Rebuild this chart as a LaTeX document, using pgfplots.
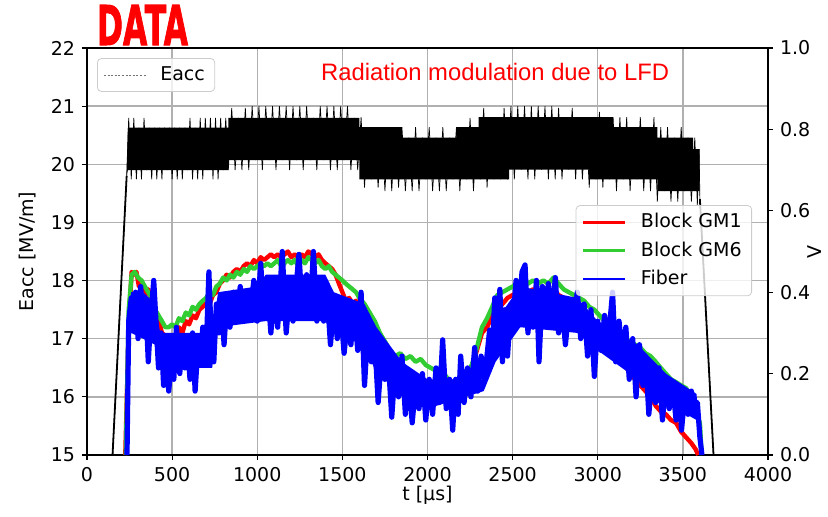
\documentclass[border=0pt]{standalone}
\usepackage{fontspec}
\setmainfont{DejaVu Sans}
\newfontfamily\arialfont{Liberation Sans}
\newfontfamily\datafont{DejaVu Sans Bold}[FakeBold=2]
\usepackage{pgfplots}
\pgfplotsset{compat=1.18}
\definecolor{mplgreen}{RGB}{50,205,50}
\definecolor{gridgray}{RGB}{176,176,176}
\definecolor{legframe}{RGB}{204,204,204}
\pgfplotsset{
  common/.style={
    scale only axis, width=340.5pt, height=203.5pt,
    at={(0,0)}, anchor=south west,
    xmin=0, xmax=4000,
    tick align=outside, major tick length=2.5pt,
    tick style={black, line width=0.6pt},
    axis line style={line width=0.7pt},
    /pgf/number format/assume math mode=true,
    /pgf/number format/1000 sep={},
    scaled ticks=false,
    tick label style={font=\fontsize{9.5}{11}\selectfont},
    label style={font=\fontsize{9.5}{11}\selectfont},
  }
}
\begin{document}
\begin{tikzpicture}
\begin{axis}[common, name=ax,
  ymin=15, ymax=22, ytick={15,16,17,18,19,20,21,22},
  xtick={0,500,1000,1500,2000,2500,3000,3500,4000},
  tick pos=left,
  grid=major, grid style={gridgray, line width=0.7pt},
  xlabel={t [µs]}, ylabel={Eacc [MV/m]},
  xlabel style={at={(axis description cs:0.5,-0.0983)}, anchor=center},
  ylabel style={at={(axis description cs:-0.0866,0.5)}, anchor=center},
  legend style={at={(axis description cs:0.0147,0.975)}, anchor=north west,
    draw=legframe, rounded corners=2pt, fill=white, fill opacity=0.8, text opacity=1,
    font=\fontsize{9.5}{11}\selectfont, inner xsep=3pt, inner ysep=2pt},
  legend cell align=left,
]
\addplot[fill=black, draw=none, forget plot] coordinates {
(233,19.8) (240,20.63) (830,20.63) (830,20.8) (1600,20.8) (1600,20.64) (1850,20.64) (1850,20.46)
(2170,20.46) (2170,20.64) (2300,20.64) (2300,20.81) (3090,20.81) (3090,20.64) (3350,20.64)
(3350,20.46) (3560,20.46) (3560,20.26) (3598,20.26)
(3598,19.54) (3350,19.54) (3350,19.74) (2950,19.74) (2950,19.91) (2480,19.91) (2480,19.74)
(1600,19.74) (1600,20.07) (830,20.07) (830,19.9) (240,19.9)
};
\addplot[black, line width=0.9pt, forget plot] coordinates {(150,15) (233,19.8)};
\addplot[black, line width=0.9pt, forget plot] coordinates {(3600,19.4) (3680,15)};
\addplot[black, line width=0.35pt, legend image code/.code={\draw[black!55, line width=0.5pt, dash pattern=on 1pt off 0.8pt] (0pt,0pt) -- (21pt,0pt); \path (26pt,0pt);}] coordinates {
(150,15) (233,19.8)
(245,20.8) (260,19.74) (275,20.8) (290,19.74) (305,20.63) (320,19.74) (335,20.8) (350,19.9) (365,20.63) (380,19.74)
(395,20.63) (410,19.74) (425,20.63) (440,19.74) (455,20.63) (470,19.9) (485,20.63) (500,19.74) (515,20.63) (530,19.74)
(545,20.63) (560,19.74) (575,20.63) (590,19.9) (605,20.8) (620,19.74) (635,20.63) (650,19.74) (665,20.8) (680,19.74)
(695,20.8) (710,19.9) (725,20.8) (740,19.74) (755,20.8) (770,19.74) (785,20.8) (800,19.9) (815,20.8)
(830,19.9) (850,20.97) (870,19.9) (890,20.8) (910,19.9) (930,20.97) (950,19.9) (970,21.0) (990,20.07) (1010,21.0)
(1030,19.9) (1050,21.0) (1070,20.07) (1090,21.0) (1110,19.9) (1130,21.0) (1150,20.07) (1170,21.0) (1190,19.9) (1210,21.0)
(1230,20.07) (1250,21.0) (1270,19.9) (1290,21.0) (1310,20.07) (1330,20.8) (1350,19.9) (1370,21.0) (1390,20.07) (1410,21.0)
(1430,19.9) (1450,21.0) (1470,19.9) (1490,21.0) (1510,20.07) (1530,21.0) (1550,19.9) (1570,20.8) (1590,19.9)
(1610,20.81) (1630,19.6) (1650,20.64) (1670,19.74) (1690,20.64) (1710,19.6) (1730,20.64) (1750,19.54)
(1770,20.64) (1790,19.54) (1810,20.64) (1830,19.6) (1850,20.64) (1870,19.54) (1890,20.46) (1910,19.54) (1930,20.64) (1950,19.54)
(1970,20.46) (1990,19.74) (2010,20.64) (2030,19.54) (2050,20.46) (2070,19.54) (2090,20.64) (2110,19.54) (2130,20.46) (2150,19.74)
(2170,20.64) (2190,19.54) (2210,20.64) (2230,19.74) (2250,20.8) (2270,19.54) (2290,20.64)
(2310,19.74) (2330,20.97) (2350,19.6) (2370,20.81) (2390,19.74) (2410,20.81) (2430,19.74) (2450,20.97) (2470,19.74)
(2490,21.0) (2510,19.74) (2530,21.0) (2550,19.91) (2570,21.0) (2590,19.74) (2610,21.0) (2630,19.74) (2650,21.0) (2670,19.91)
(2690,21.0) (2710,19.74) (2730,21.0) (2750,19.74) (2770,20.97) (2790,19.74) (2810,20.81) (2830,19.91) (2850,20.97) (2870,19.74)
(2890,20.81) (2910,19.74) (2930,20.81) (2950,19.6) (2970,20.81) (2990,19.74) (3010,20.9) (3030,19.6) (3050,20.81) (3070,19.74)
(3090,20.81) (3110,19.54) (3130,20.81) (3150,19.74) (3170,20.81) (3190,19.54) (3210,20.64) (3230,19.74) (3250,20.81) (3270,19.54)
(3290,20.64) (3310,19.54) (3330,20.81) (3350,19.36) (3370,20.64) (3390,19.54) (3410,20.64) (3430,19.36) (3450,20.46) (3470,19.36)
(3490,20.64) (3510,19.54) (3530,20.46) (3550,19.36) (3570,20.46) (3585,19.3) (3595,20.26) (3600,19.4) (3680,15)
};
\addlegendentry{Eacc}
\node[text=red, font=\arialfont\fontsize{11.9}{13}\selectfont] at (axis cs:2397,21.587) {Radiation modulation due to LFD};
\end{axis}
\begin{axis}[common,
  axis y line*=right, axis x line=none,
  ymin=0, ymax=1, ytick={0,0.2,0.4,0.6,0.8,1.0},
  yticklabel style={/pgf/number format/.cd, fixed, fixed zerofill, precision=1},
  ylabel={V},
  ylabel style={at={(axis description cs:1.069,0.5)}, anchor=center},
  legend style={at={(axis description cs:0.9765,0.614)}, anchor=north east,
    draw=legframe, rounded corners=2pt, fill=white, fill opacity=0.8, text opacity=1,
    font=\fontsize{9.5}{11}\selectfont, inner xsep=3pt, inner ysep=2pt, row sep=1.5pt},
  legend cell align=left,
  legend image code/.code={\draw[#1, line width=1.3pt] (0pt,0pt) -- (21pt,0pt); \path (25.5pt,0pt);},
]
\addplot[red, line width=2.2pt, line join=round] coordinates {
(225,0) (245,0.314) (262,0.45) (275,0.443) (290,0.45) (305,0.414) (320,0.429) (340,0.393) (360,0.407) (380,0.371)
(400,0.357) (420,0.336) (440,0.3) (460,0.293) (480,0.286) (500,0.293) (520,0.286) (540,0.314) (560,0.3) (580,0.329)
(600,0.321) (620,0.343) (640,0.336) (660,0.357) (680,0.364) (700,0.379) (720,0.371) (740,0.393) (760,0.4) (780,0.421)
(800,0.429) (820,0.443) (840,0.436) (860,0.45) (880,0.457) (900,0.45) (920,0.464) (940,0.471) (960,0.464) (980,0.479)
(1000,0.471) (1020,0.486) (1040,0.479) (1060,0.486) (1080,0.493) (1100,0.486) (1120,0.493) (1140,0.486) (1160,0.493) (1180,0.5)
(1200,0.486) (1220,0.493) (1240,0.486) (1260,0.493) (1280,0.486) (1300,0.5) (1320,0.493) (1340,0.486) (1360,0.493) (1380,0.479)
(1400,0.471) (1420,0.464) (1440,0.457) (1460,0.443) (1480,0.421) (1500,0.4) (1520,0.379) (1540,0.386) (1560,0.371) (1580,0.379)
(1600,0.364) (1630,0.35) (1660,0.336) (1690,0.314) (1720,0.293) (1750,0.271) (1780,0.25) (1810,0.236) (1840,0.214) (1870,0.2)
(1900,0.186) (1930,0.179) (1960,0.164) (1990,0.157) (2020,0.15) (2050,0.157) (2080,0.143) (2110,0.15) (2140,0.136) (2170,0.143)
(2200,0.157) (2230,0.179) (2260,0.214) (2290,0.257) (2320,0.3) (2350,0.314) (2380,0.343) (2410,0.357) (2440,0.371) (2470,0.386)
(2500,0.393) (2530,0.4) (2560,0.407) (2590,0.4) (2620,0.407) (2650,0.4) (2680,0.407) (2710,0.4) (2740,0.407) (2770,0.393)
(2800,0.386) (2830,0.379) (2860,0.371) (2890,0.364) (2920,0.35) (2950,0.336) (2980,0.321) (3010,0.3) (3040,0.286) (3070,0.271)
(3100,0.25) (3130,0.236) (3160,0.221) (3190,0.2) (3220,0.186) (3250,0.171) (3280,0.157) (3310,0.143) (3340,0.121) (3370,0.107)
(3400,0.1) (3430,0.086) (3460,0.079) (3490,0.057) (3520,0.043) (3550,0.029) (3575,0.014) (3590,0)
};
\addlegendentry{Block GM1}
\addplot[mplgreen, line width=2.2pt, line join=round] coordinates {
(228,0) (245,0.357) (262,0.443) (280,0.45) (300,0.436) (320,0.429) (340,0.414) (360,0.4) (380,0.386) (400,0.357)
(420,0.343) (440,0.329) (460,0.314) (480,0.314) (500,0.321) (520,0.314) (540,0.336) (560,0.329) (580,0.35) (600,0.343)
(620,0.364) (640,0.357) (660,0.371) (680,0.379) (700,0.386) (720,0.4) (740,0.393) (760,0.414) (780,0.421) (800,0.436)
(820,0.429) (840,0.443) (860,0.436) (880,0.45) (900,0.443) (920,0.457) (940,0.45) (960,0.464) (980,0.457) (1000,0.464)
(1020,0.471) (1040,0.464) (1060,0.471) (1080,0.464) (1100,0.471) (1120,0.479) (1140,0.464) (1160,0.471) (1180,0.479) (1200,0.471)
(1220,0.479) (1240,0.464) (1260,0.479) (1280,0.471) (1300,0.486) (1320,0.479) (1340,0.471) (1360,0.479) (1380,0.464) (1400,0.457)
(1420,0.464) (1440,0.45) (1460,0.443) (1480,0.436) (1500,0.429) (1520,0.421) (1540,0.414) (1560,0.407) (1580,0.4) (1600,0.386)
(1630,0.371) (1660,0.35) (1690,0.329) (1720,0.3) (1750,0.279) (1780,0.257) (1810,0.243) (1840,0.25) (1870,0.236) (1900,0.243)
(1930,0.229) (1960,0.236) (1990,0.221) (2020,0.214) (2050,0.207) (2080,0.2) (2110,0.193) (2140,0.171) (2170,0.179) (2200,0.186)
(2230,0.2) (2260,0.221) (2290,0.264) (2320,0.314) (2350,0.336) (2380,0.364) (2410,0.393) (2440,0.4) (2470,0.407) (2500,0.414)
(2530,0.421) (2560,0.436) (2590,0.421) (2620,0.429) (2650,0.421) (2680,0.429) (2710,0.421) (2740,0.436) (2770,0.421) (2800,0.407)
(2830,0.4) (2860,0.393) (2890,0.386) (2920,0.379) (2950,0.364) (2980,0.357) (3010,0.343) (3040,0.329) (3070,0.321) (3100,0.307)
(3130,0.293) (3160,0.286) (3190,0.279) (3220,0.271) (3250,0.264) (3280,0.25) (3310,0.243) (3340,0.229) (3370,0.214) (3400,0.2)
(3430,0.186) (3460,0.179) (3490,0.171) (3520,0.164) (3550,0.136) (3580,0.1) (3600,0.079) (3610,0)
};
\addlegendentry{Block GM6}
\addplot[fill=blue, draw=none, forget plot] coordinates {
(240,0.357) (260,0.4) (330,0.4) (400,0.371) (430,0.3) (735,0.3) (770,0.4) (1000,0.414) (1050,0.443) (1400,0.443)
(1450,0.4) (1630,0.371) (1700,0.314) (1850,0.229) (2000,0.186) (2330,0.186) (2400,0.329) (2545,0.414) (2880,0.386)
(3000,0.329) (3235,0.271) (3400,0.2) (3580,0.15) (3605,0.029)
(3580,0.086) (3400,0.129) (3235,0.186) (3000,0.257) (2880,0.3) (2545,0.314) (2400,0.229) (2330,0.157) (2000,0.114)
(1850,0.157) (1700,0.2) (1630,0.271) (1450,0.3) (1400,0.329) (1050,0.329) (770,0.314) (735,0.214) (430,0.214)
(400,0.271) (260,0.3) (240,0.257)
};
\addplot[blue, line width=2.6pt, line join=round] coordinates {
(235,0) (245,0.329) (260,0.386) (270,0.314) (285,0.4) (300,0.286) (315,0.414) (330,0.329) (345,0.371) (360,0.229)
(375,0.343) (392,0.429) (405,0.329) (420,0.214) (435,0.3) (450,0.171) (465,0.271) (480,0.157) (495,0.229) (510,0.186)
(525,0.314) (545,0.2) (560,0.286) (575,0.214) (590,0.271) (605,0.186) (620,0.3) (635,0.157) (650,0.257) (665,0.229)
(680,0.314) (700,0.257) (716,0.45) (730,0.286) (745,0.229) (760,0.371) (775,0.3) (790,0.386) (805,0.271) (820,0.371)
(840,0.314) (860,0.4) (880,0.329) (900,0.414) (920,0.329) (940,0.4) (960,0.357) (980,0.429) (1000,0.329) (1020,0.471)
(1040,0.343) (1060,0.414) (1080,0.3) (1100,0.4) (1120,0.314) (1147,0.5) (1170,0.3) (1190,0.4) (1210,0.329) (1245,0.493)
(1265,0.357) (1290,0.443) (1310,0.357) (1330,0.5) (1350,0.329) (1370,0.429) (1390,0.329) (1410,0.4) (1430,0.271) (1450,0.371)
(1470,0.286) (1490,0.357) (1510,0.25) (1530,0.329) (1550,0.271) (1570,0.371) (1590,0.257) (1610,0.4) (1630,0.171) (1650,0.314)
(1670,0.229) (1690,0.286) (1710,0.129) (1730,0.243) (1750,0.186) (1770,0.229) (1790,0.093) (1810,0.214) (1830,0.143) (1850,0.243)
(1870,0.1) (1890,0.2) (1910,0.079) (1930,0.171) (1950,0.114) (1970,0.2) (1990,0.086) (2010,0.186) (2030,0.1) (2050,0.214)
(2070,0.129) (2089,0.283) (2110,0.114) (2130,0.186) (2148,0.061) (2165,0.186) (2180,0.1) (2195,0.243) (2215,0.129) (2235,0.214)
(2255,0.143) (2277,0.264) (2295,0.157) (2315,0.243) (2335,0.186) (2365,0.307) (2380,0.243) (2395,0.386) (2410,0.286) (2425,0.407)
(2440,0.229) (2455,0.357) (2470,0.243) (2490,0.371) (2505,0.343) (2520,0.429) (2535,0.329) (2555,0.45) (2573,0.467) (2590,0.3)
(2605,0.386) (2620,0.314) (2640,0.429) (2655,0.229) (2675,0.414) (2690,0.343) (2710,0.421) (2730,0.343) (2751,0.436) (2770,0.3)
(2790,0.371) (2810,0.271) (2830,0.357) (2850,0.314) (2880,0.4) (2900,0.286) (2920,0.371) (2940,0.243) (2960,0.357) (2980,0.193)
(3000,0.329) (3020,0.257) (3040,0.343) (3060,0.271) (3087,0.4) (3105,0.229) (3125,0.329) (3145,0.243) (3165,0.314) (3185,0.186)
(3205,0.286) (3225,0.143) (3245,0.271) (3265,0.171) (3285,0.214) (3300,0.1) (3320,0.2) (3340,0.129) (3360,0.214) (3380,0.086)
(3400,0.186) (3420,0.114) (3440,0.171) (3460,0.086) (3480,0.157) (3492,0.061) (3510,0.143) (3530,0.1) (3550,0.157) (3570,0.114)
(3585,0.129) (3600,0.043) (3612,0)
};
\addlegendentry{Fiber}
\end{axis}
\node[text=red, font=\datafont] at ([shift={(27.75pt,11.5pt)}]ax.north west) {\resizebox{45.5pt}{20pt}{DATA}};
\pgfresetboundingbox
\path[use as bounding box] (-43.5pt,-30.5pt) rectangle (370.5pt,227.5pt);
\end{tikzpicture}
\end{document}
